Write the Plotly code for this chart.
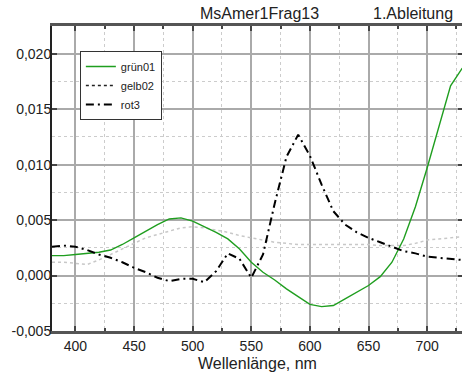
import plotly.graph_objects as go

wavelength = [380, 390, 400, 410, 420, 430, 440, 450, 460, 470, 480, 490, 500, 510, 520, 530,
              540, 550, 560, 570, 580, 590, 600, 610, 620, 630, 640, 650, 660, 670, 680, 690,
              700, 710, 720, 730]

gruen01 = [0.0018, 0.0018, 0.0019, 0.0020, 0.0021, 0.0023, 0.0028, 0.0034, 0.0040, 0.0046,
           0.0051, 0.0052, 0.0049, 0.0044, 0.0039, 0.0033, 0.0024, 0.0012, 0.0003, -0.0004,
           -0.0012, -0.0019, -0.0026, -0.0028, -0.0027, -0.0021, -0.0015, -0.0009, -0.0001,
           0.0012, 0.0033, 0.0062, 0.0097, 0.0134, 0.0171, 0.0187]

gelb02 = [0.0012, 0.0012, 0.0011, 0.0010, 0.0014, 0.0019, 0.0024, 0.0029, 0.0034, 0.0037,
          0.0040, 0.0043, 0.0044, 0.0043, 0.0041, 0.0039, 0.0036, 0.0034, 0.0032, 0.0030,
          0.0029, 0.0028, 0.0028, 0.0028, 0.0028, 0.0028, 0.0028, 0.0028, 0.0027, 0.0027,
          0.0027, 0.0029, 0.0032, 0.0033, 0.0034, 0.0035]

rot3 = [0.0026, 0.0027, 0.0026, 0.0023, 0.0019, 0.0016, 0.0012, 0.0007, 0.0003, -0.0002,
        -0.0005, -0.0003, -0.0003, -0.0006, 0.0004, 0.0020, 0.0015, -0.0002, 0.0019, 0.0065,
        0.0107, 0.0127, 0.0108, 0.0082, 0.0058, 0.0046, 0.0039, 0.0034, 0.0030, 0.0026,
        0.0022, 0.0020, 0.0017, 0.0016, 0.0015, 0.0014]

x_ticks = [400, 450, 500, 550, 600, 650, 700]
y_ticks = [-0.005, 0.0, 0.005, 0.010, 0.015, 0.020]
y_ticklabels = ["-0,005", "0,000", "0,005", "0,010", "0,015", "0,020"]

title_left = "MsAmer1Frag13"
title_right = "1.Ableitung"
x_title = "Wellenlänge, nm"

FONT = "Liberation Sans, Arial, sans-serif"
GREEN = "#1f9e1f"

# the frame's right edge sits just beyond the visible window, as in the reference
L, R, T, B, W, H = 52, 0, 26, 47, 465, 378
PW, PH = W - L - R, H - T - B

fig = go.Figure()
fig.add_trace(go.Scatter(x=wavelength, y=gelb02, mode="lines", showlegend=False,
                         line=dict(color="#c8c8c8", width=1.5, dash="dot")))
fig.add_trace(go.Scatter(x=wavelength, y=gruen01, mode="lines", name="grün01",
                         line=dict(color=GREEN, width=1.4)))
fig.add_trace(go.Scatter(x=[None], y=[None], mode="lines", name="gelb02",
                         line=dict(color="#222222", width=1.5, dash="dot")))
fig.add_trace(go.Scatter(x=wavelength, y=rot3, mode="lines", name="rot3",
                         line=dict(color="black", width=2, dash="8px,4px,2px,4px")))

fig.update_layout(
    width=W, height=H,
    margin=dict(l=L, r=R, t=T, b=B, pad=0),
    paper_bgcolor="white", plot_bgcolor="white",
    font=dict(family=FONT, size=14, color="#222"),
    showlegend=True,
    legend=dict(x=(80 - L) / PW, y=(H - B - 51) / PH, xanchor="left", yanchor="top",
                bgcolor="white", bordercolor="#333", borderwidth=1,
                font=dict(size=11, family=FONT), tracegroupgap=0,
                itemwidth=30),
    xaxis=dict(range=[380, 730.6], tickvals=x_ticks, ticks="inside", ticklen=5,
               tickcolor="#444", tickwidth=1.5,
               showgrid=True, gridcolor="#aaaaaa", gridwidth=1.5,
               showline=True, linecolor="#555", linewidth=3, mirror="ticks",
               zeroline=False,
               minor=dict(dtick=25, tick0=375, showgrid=True, gridcolor="#cccccc",
                          griddash="dot", gridwidth=1, ticks="inside", ticklen=3,
                          tickcolor="#444"),
               title=dict(text=x_title, font=dict(size=16, family=FONT), standoff=6),
               tickfont=dict(size=14, family=FONT)),
    yaxis=dict(range=[-0.005, 0.0225], tickvals=y_ticks, ticktext=y_ticklabels,
               ticks="inside", ticklen=5, tickcolor="#444", tickwidth=1.5,
               showgrid=True, gridcolor="#aaaaaa", gridwidth=1.5,
               showline=True, linecolor="#222", linewidth=2, mirror="ticks",
               zeroline=False, ticklabelstandoff=-4,
               minor=dict(dtick=0.0025, tick0=0, showgrid=True, gridcolor="#cccccc",
                          griddash="dot", gridwidth=1),
               tickfont=dict(size=14, family=FONT)),
    annotations=[
        dict(text=title_left, x=(261 - L) / PW, y=(H - B - 13) / PH,
             xref="paper", yref="paper", xanchor="center", yanchor="middle",
             showarrow=False, font=dict(size=16, family=FONT)),
        dict(text=title_right, x=(415 - L) / PW, y=(H - B - 13) / PH,
             xref="paper", yref="paper", xanchor="center", yanchor="middle",
             showarrow=False, font=dict(size=16, family=FONT)),
    ],
)

fig.write_html("out.html", config={"displayModeBar": False},
               post_script="document.body.style.margin='0px';"
                           "document.body.style.overflow='hidden';"
                           "document.documentElement.style.overflow='hidden';")
